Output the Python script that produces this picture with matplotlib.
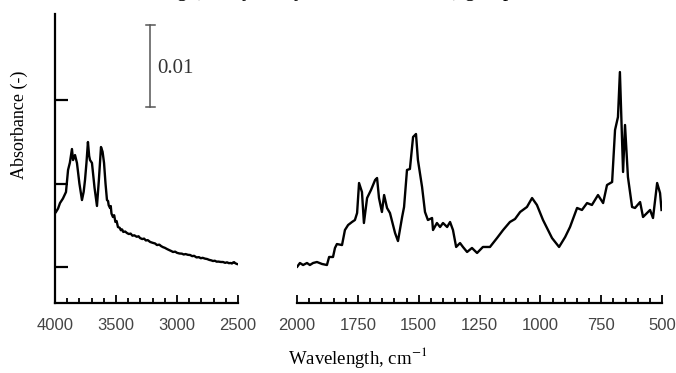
import numpy as np
import matplotlib
matplotlib.use('Agg')
from matplotlib import pyplot as plt
from matplotlib.ticker import MultipleLocator, NullFormatter

plt.rcParams['mathtext.fontset'] = 'stix'

# 4000-2500 cm-1 region (absorbance)
wn_high = [3992, 3975, 3959, 3935, 3910, 3893, 3878, 3861, 3852, 3836, 3820,
           3800, 3779, 3765, 3754, 3742, 3730, 3720, 3713, 3697, 3676, 3656,
           3640, 3623, 3610, 3598, 3586, 3574, 3565, 3560, 3549, 3543, 3537,
           3525, 3515, 3505, 3495, 3484, 3470, 3460, 3450, 3440, 3425, 3410,
           3395, 3380, 3365, 3350, 3330, 3315, 3303, 3285, 3270, 3255, 3240,
           3220, 3200, 3180, 3164, 3145, 3130, 3115, 3100, 3080, 3060, 3045,
           3033, 3015, 3000, 2980, 2960, 2945, 2930, 2910, 2893, 2875, 2860,
           2840, 2820, 2805, 2790, 2770, 2754, 2735, 2720, 2705, 2690, 2675,
           2660, 2640, 2623, 2605, 2590, 2575, 2560, 2550, 2540, 2532, 2525,
           2515, 2508]
abs_high = [0.01659, 0.01700, 0.01766, 0.01820, 0.01898, 0.02162, 0.02250,
            0.02413, 0.02281, 0.02341, 0.02246, 0.02000, 0.01802, 0.01900,
            0.02042, 0.02250, 0.02497, 0.02330, 0.02281, 0.02246, 0.01950,
            0.01731, 0.02050, 0.02437, 0.02380, 0.02246, 0.02000, 0.01802,
            0.01790, 0.01740, 0.01707, 0.01730, 0.01640, 0.01599, 0.01620,
            0.01540, 0.01550, 0.01479, 0.01470, 0.01440, 0.01450, 0.01420,
            0.01425, 0.01407, 0.01395, 0.01400, 0.01375, 0.01380, 0.01362,
            0.01368, 0.01347, 0.01335, 0.01340, 0.01318, 0.01322, 0.01300,
            0.01290, 0.01282, 0.01263, 0.01268, 0.01250, 0.01238, 0.01230,
            0.01214, 0.01200, 0.01190, 0.01180, 0.01184, 0.01170, 0.01162,
            0.01160, 0.01150, 0.01155, 0.01146, 0.01144, 0.01130, 0.01134,
            0.01115, 0.01118, 0.01105, 0.01110, 0.01100, 0.01096, 0.01085,
            0.01080, 0.01072, 0.01075, 0.01064, 0.01065, 0.01060, 0.01060,
            0.01050, 0.01056, 0.01046, 0.01048, 0.01042, 0.01054, 0.01058,
            0.01048, 0.01040, 0.01036]

# 2000-500 cm-1 region
wn_low = [1999, 1988, 1975, 1959, 1947, 1934, 1918, 1897, 1877, 1868, 1852,
          1844, 1836, 1815, 1803, 1790, 1774, 1762, 1753, 1745, 1733, 1725,
          1712, 1696, 1679, 1671, 1663, 1651, 1642, 1630, 1618, 1597, 1585,
          1568, 1560, 1548, 1536, 1523, 1511, 1503, 1486, 1474, 1462, 1445,
          1441, 1425, 1412, 1400, 1383, 1371, 1359, 1346, 1330, 1318, 1301,
          1281, 1260, 1236, 1207, 1178, 1153, 1125, 1104, 1083, 1055, 1034,
          1014, 989, 952, 923, 898, 878, 849, 829, 808, 788, 763, 742, 726,
          705, 693, 681, 673, 660, 652, 640, 623, 611, 590, 578, 549, 537,
          520, 508, 502]
abs_low = [0.01004, 0.01048, 0.01024, 0.01048, 0.01024, 0.01048, 0.01060,
           0.01036, 0.01024, 0.01120, 0.01120, 0.01228, 0.01275, 0.01263,
           0.01443, 0.01503, 0.01539, 0.01563, 0.01647, 0.02006, 0.01898,
           0.01527, 0.01826, 0.01922, 0.02042, 0.02066, 0.01826, 0.01659,
           0.01862, 0.01707, 0.01647, 0.01407, 0.01311, 0.01599, 0.01719,
           0.02162, 0.02174, 0.02557, 0.02593, 0.02281, 0.01958, 0.01659,
           0.01563, 0.01587, 0.01443, 0.01527, 0.01479, 0.01527, 0.01479,
           0.01539, 0.01443, 0.01240, 0.01287, 0.01240, 0.01180, 0.01228,
           0.01168, 0.01240, 0.01240, 0.01347, 0.01443, 0.01539, 0.01575,
           0.01659, 0.01719, 0.01826, 0.01743, 0.01563, 0.01347, 0.01240,
           0.01359, 0.01479, 0.01707, 0.01683, 0.01766, 0.01743, 0.01862,
           0.01766, 0.01982, 0.02018, 0.02641, 0.02796, 0.03335, 0.02138,
           0.02701, 0.02078, 0.01719, 0.01707, 0.01778, 0.01599, 0.01683,
           0.01587, 0.02006, 0.01886, 0.01683]

y_ticks = [0.01, 0.02, 0.03]
ylim = (0.00569, 0.0403)
scale_bar = (0.02916, 0.0390)   # 0.01 absorbance bar

fig = plt.figure(figsize=(6.76, 3.73), dpi=100)
ax1 = fig.add_axes([55/676, 70/373, 183/676, 289/373])
ax2 = fig.add_axes([297/676, 70/373, 365/676, 289/373])

for ax, wn, ab, lim, major, minor in [
        (ax1, wn_high, abs_high, (4000, 2500), 500, 100),
        (ax2, wn_low, abs_low, (2000, 500), 250, 50)]:
    ax.plot(wn, ab, color='black', linewidth=1.7)
    ax.set_xlim(*lim)
    ax.set_ylim(*ylim)
    ax.xaxis.set_major_locator(MultipleLocator(major))
    ax.xaxis.set_minor_locator(MultipleLocator(minor))
    ax.tick_params(axis='x', which='major', direction='in', length=6,
                   width=1.3, pad=11, labelsize=12, labelcolor='#444444')
    ax.tick_params(axis='x', which='minor', direction='in', length=3.5,
                   width=1.3)
    for lab in ax.get_xticklabels():
        lab.set_family('Liberation Sans')
    for s in ['top', 'right']:
        ax.spines[s].set_visible(False)
    ax.spines['bottom'].set_linewidth(1.6)
    ax.patch.set_alpha(0)

ax1.spines['left'].set_linewidth(1.6)
ax1.set_yticks(y_ticks)
ax1.yaxis.set_major_formatter(NullFormatter())
ax1.tick_params(axis='y', direction='in', length=9, width=1.6)

ax2.spines['left'].set_visible(False)
ax2.set_yticks([])

# scale bar
ax1.plot([3221, 3221], scale_bar, color='#555555', linewidth=1.1)
ax1.plot([3254, 3184], [scale_bar[0]] * 2, color='#555555', linewidth=1.1)
ax1.plot([3254, 3184], [scale_bar[1]] * 2, color='#555555', linewidth=1.1)
ax1.text(3165, 0.03383, '0.01', family='Liberation Serif', fontsize=15,
         va='center', ha='left', color='#333333')

fig.text(19/676, 1 - 125/373, 'Absorbance (-)', rotation=90,
         family='Liberation Serif', fontsize=13, ha='center', va='center')
fig.text(358/676, 1 - 357/373, 'Wavelength, cm$^{-1}$',
         family='Liberation Serif', fontsize=13.5, ha='center', va='center')

# clipped line of page text above the figure
fig.text(105/676, 1 + 4/373,
         'stretching (methyl, ethyl in the \u2013CH$_2$CH$_3$) groups.',
         family='Liberation Serif', fontsize=15, ha='left', va='baseline')

fig.savefig('out.png', dpi=100, facecolor='white')
